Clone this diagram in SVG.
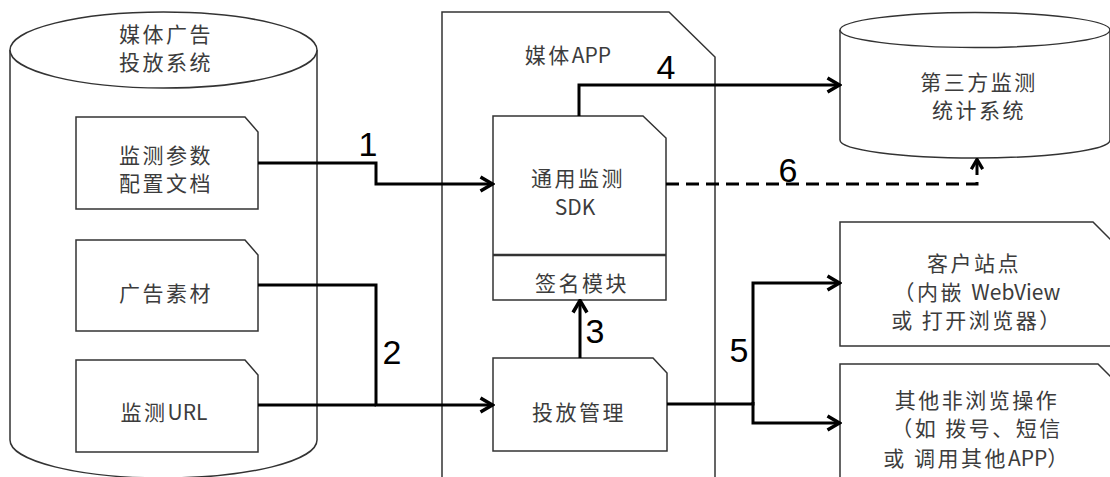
<svg xmlns="http://www.w3.org/2000/svg" width="1110" height="477" viewBox="0 0 1110 477">
<style>
.shape{fill:#fff;stroke:#333;stroke-width:1.5}
.t{font-family:"Noto Sans CJK SC","Noto Sans",sans-serif;font-size:21px;letter-spacing:2.5px;fill:#3c3c3c;text-anchor:middle}
.l{letter-spacing:0}
.n{font-family:"Liberation Sans",Arial,sans-serif;font-size:34px;fill:#000;text-anchor:middle}
.c{fill:none;stroke:#000;stroke-width:3;stroke-linejoin:miter}
.d{stroke-dasharray:13 7}
</style>
<defs>
<marker id="arr" viewBox="0 0 16 18" refX="14.5" refY="9" markerWidth="16" markerHeight="18" markerUnits="userSpaceOnUse" orient="auto">
<path d="M2,2 L14,9 L2,16" fill="none" stroke="#000" stroke-width="3.5"/>
</marker>
<marker id="arrs" viewBox="0 0 16 18" refX="14.5" refY="9" markerWidth="13" markerHeight="15" markerUnits="userSpaceOnUse" orient="auto">
<path d="M2,2 L14,9 L2,16" fill="none" stroke="#000" stroke-width="4"/>
</marker>
</defs>

<g id="ad-system">
<path class="shape" d="M10,50 V440 A153.5,38 0 0 0 317,440 V50"/>
<ellipse class="shape" cx="163.5" cy="50" rx="153.5" ry="38"/>
<text class="t" x="166" y="42">媒体广告</text>
<text class="t" x="166" y="70">投放系统</text>
</g>

<g id="config-doc">
<path class="shape" d="M76,117 H245 L258,132 V209 H76 Z"/>
<text class="t" x="166" y="163">监测参数</text>
<text class="t" x="166" y="191">配置文档</text>
</g>

<g id="ad-material">
<path class="shape" d="M76,240 H245 L258,255 V331 H76 Z"/>
<text class="t" x="166" y="301">广告素材</text>
</g>

<g id="monitor-url">
<path class="shape" d="M76,360 H245 L258,375 V452 H76 Z"/>
<text class="t" x="164" y="420">监测<tspan class="l">URL</tspan></text>
</g>

<g id="media-app">
<path class="shape" d="M442,12 H669 L715,57 V482 H442 Z"/>
<text class="t" x="568" y="63">媒体<tspan class="l">APP</tspan></text>
</g>

<g id="sdk">
<path class="shape" d="M493,116 H643 L666,138 V300 H493 Z"/>
<line x1="493" y1="255" x2="666" y2="255" stroke="#333" stroke-width="2.5"/>
<text class="t" x="578" y="186">通用监测</text>
<text class="t l" x="575" y="215">SDK</text>
<text class="t" x="582" y="291">签名模块</text>
</g>

<g id="delivery">
<path class="shape" d="M493,358 H653 L667,373 V451 H493 Z"/>
<text class="t" x="579" y="420">投放管理</text>
</g>

<g id="third-party">
<path class="shape" d="M840,30 V140 A135,18 0 0 0 1110,140 V30"/>
<ellipse class="shape" cx="975" cy="30" rx="135" ry="17.5"/>
<text class="t" x="979" y="90">第三方监测</text>
<text class="t" x="979" y="118">统计系统</text>
</g>

<g id="client-site">
<path class="shape" d="M840,222 H1093 L1118,247 V346 H840 Z"/>
<text class="t" x="974" y="271">客户站点</text>
<text class="t" x="977" y="300">（内嵌  <tspan class="l">WebView</tspan></text>
<text class="t" x="977" y="328">或 打开浏览器）</text>
</g>

<g id="other-ops">
<path class="shape" d="M840,364 H1098 L1120,386 V482 H840 Z"/>
<text class="t" x="977" y="408">其他非浏览操作</text>
<text class="t" x="977" y="436">（如 拨号、短信</text>
<text class="t" x="977" y="466">或 调用其他<tspan class="l">APP</tspan>）</text>
</g>

<g id="connectors">
<path class="c" d="M258,163 H376 V184 H493" marker-end="url(#arr)"/>
<path class="c" d="M258,285 H376 V405 H493" marker-end="url(#arr)"/>
<path class="c" d="M258,405 H376"/>
<path class="c" d="M580,358 V300" marker-end="url(#arr)"/>
<path class="c" d="M579,116 V85 H840" marker-end="url(#arr)"/>
<path class="c" d="M667,404 H753 V283 H840" marker-end="url(#arr)"/>
<path class="c" d="M753,402 V423 H840" marker-end="url(#arr)"/>
<path class="c d" d="M666,184 H977 V159" marker-end="url(#arrs)"/>
<text class="n" x="368" y="156">1</text>
<text class="n" x="392" y="364">2</text>
<text class="n" x="595" y="343">3</text>
<text class="n" x="666" y="79">4</text>
<text class="n" x="739" y="362">5</text>
<text class="n" x="788" y="182">6</text>
</g>
</svg>
